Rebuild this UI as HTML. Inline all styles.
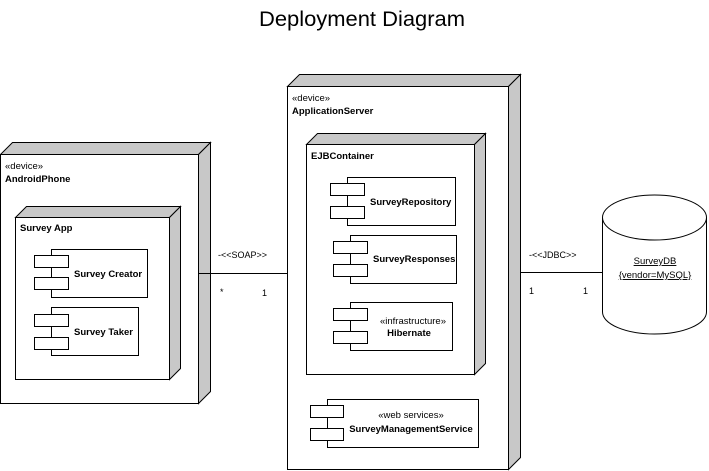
<!DOCTYPE html>
<html><head><meta charset="utf-8"><style>
html,body{margin:0;padding:0;background:#fff;overflow:hidden;width:709px;height:471px;}
svg{display:block;font-family:"Liberation Sans",sans-serif;}
.b{font-weight:bold;font-size:9.5px;}
.n{font-size:9.5px;}
</style></head><body>
<svg width="709" height="471" viewBox="0 0 709 471" xmlns="http://www.w3.org/2000/svg">
<rect width="709" height="471" fill="#fff"/>
<text x="362" y="26" text-anchor="middle" font-size="21" textLength="206" lengthAdjust="spacingAndGlyphs">Deployment Diagram</text>
<g stroke="#000" stroke-width="1" fill="#c8c8c8">
<polygon points="0.5,154.5 12.5,142.5 210.5,142.5 198.5,154.5"/>
<polygon points="198.5,154.5 210.5,142.5 210.5,391.5 198.5,403.5"/>
<rect x="0.5" y="154.5" width="198" height="249" fill="#fff"/>
<polygon points="15.5,217.5 26.5,206.5 180.5,206.5 169.5,217.5"/>
<polygon points="169.5,217.5 180.5,206.5 180.5,368.5 169.5,379.5"/>
<rect x="15.5" y="217.5" width="154" height="162" fill="#fff"/>
<polygon points="287.5,86.5 299.5,74.5 520.5,74.5 508.5,86.5"/>
<polygon points="508.5,86.5 520.5,74.5 520.5,457.5 508.5,469.5"/>
<rect x="287.5" y="86.5" width="221" height="383" fill="#fff"/>
<polygon points="306.5,144.5 317.5,133.5 485.5,133.5 474.5,144.5"/>
<polygon points="474.5,144.5 485.5,133.5 485.5,363.5 474.5,374.5"/>
<rect x="306.5" y="144.5" width="168" height="230" fill="#fff"/>
</g>
<g stroke="#000" stroke-width="1" fill="#fff">
<rect x="51.5" y="249.5" width="96" height="48"/>
<rect x="34.5" y="255.5" width="34" height="12"/>
<rect x="34.5" y="277.5" width="34" height="12"/>
<rect x="51.5" y="307.5" width="87" height="48"/>
<rect x="34.5" y="314.5" width="34" height="12"/>
<rect x="34.5" y="337.5" width="34" height="12"/>
<rect x="347.5" y="177.5" width="108" height="48"/>
<rect x="330.5" y="183.5" width="34" height="12"/>
<rect x="330.5" y="206.5" width="34" height="12"/>
<rect x="350.5" y="235.5" width="106" height="48"/>
<rect x="333.5" y="241.5" width="34" height="12"/>
<rect x="333.5" y="264.5" width="34" height="12"/>
<rect x="350.5" y="302.5" width="102" height="48"/>
<rect x="333.5" y="308.5" width="34" height="12"/>
<rect x="333.5" y="331.5" width="34" height="12"/>
<rect x="327.5" y="399.5" width="151" height="48"/>
<rect x="310.5" y="405.5" width="33" height="12"/>
<rect x="310.5" y="428.5" width="33" height="12"/>
<line x1="198.5" y1="273.5" x2="287.5" y2="273.5"/>
<line x1="520.5" y1="272.5" x2="602.5" y2="272.5"/>
<path d="M602.5,217.5 L602.5,312 A52,22 0 0 0 706.5,312 L706.5,217.5" />
<ellipse cx="654.5" cy="217.5" rx="52" ry="22.5"/>
</g>
<text x="5" y="169" class="n">«device»</text>
<text x="5" y="182" class="b">AndroidPhone</text>
<text x="20" y="231" class="b">Survey App</text>
<text x="74" y="277" class="b">Survey Creator</text>
<text x="74" y="335" class="b">Survey Taker</text>
<text x="292" y="101" class="n">«device»</text>
<text x="292" y="114" class="b">ApplicationServer</text>
<text x="311" y="159" class="b">EJBContainer</text>
<text x="370" y="205" class="b">SurveyRepository</text>
<text x="373" y="262" class="b">SurveyResponses</text>
<text x="413" y="324" class="n" text-anchor="middle">«infrastructure»</text>
<text x="409" y="336" class="b" text-anchor="middle">Hibernate</text>
<text x="411" y="418" class="n" text-anchor="middle">«web services»</text>
<text x="411" y="432" class="b" text-anchor="middle">SurveyManagementService</text>
<text x="218" y="258" font-size="9">-&lt;&lt;SOAP&gt;&gt;</text>
<text x="220" y="295" font-size="9">*</text>
<text x="262" y="296" font-size="9">1</text>
<text x="529" y="258" font-size="9">-&lt;&lt;JDBC&gt;&gt;</text>
<text x="529" y="294" font-size="9">1</text>
<text x="583" y="294" font-size="9">1</text>
<text x="655" y="264" class="n" text-anchor="middle" text-decoration="underline">SurveyDB</text>
<text x="655" y="278" class="n" text-anchor="middle" text-decoration="underline">{vendor=MySQL}</text>
</svg>
</body></html>
